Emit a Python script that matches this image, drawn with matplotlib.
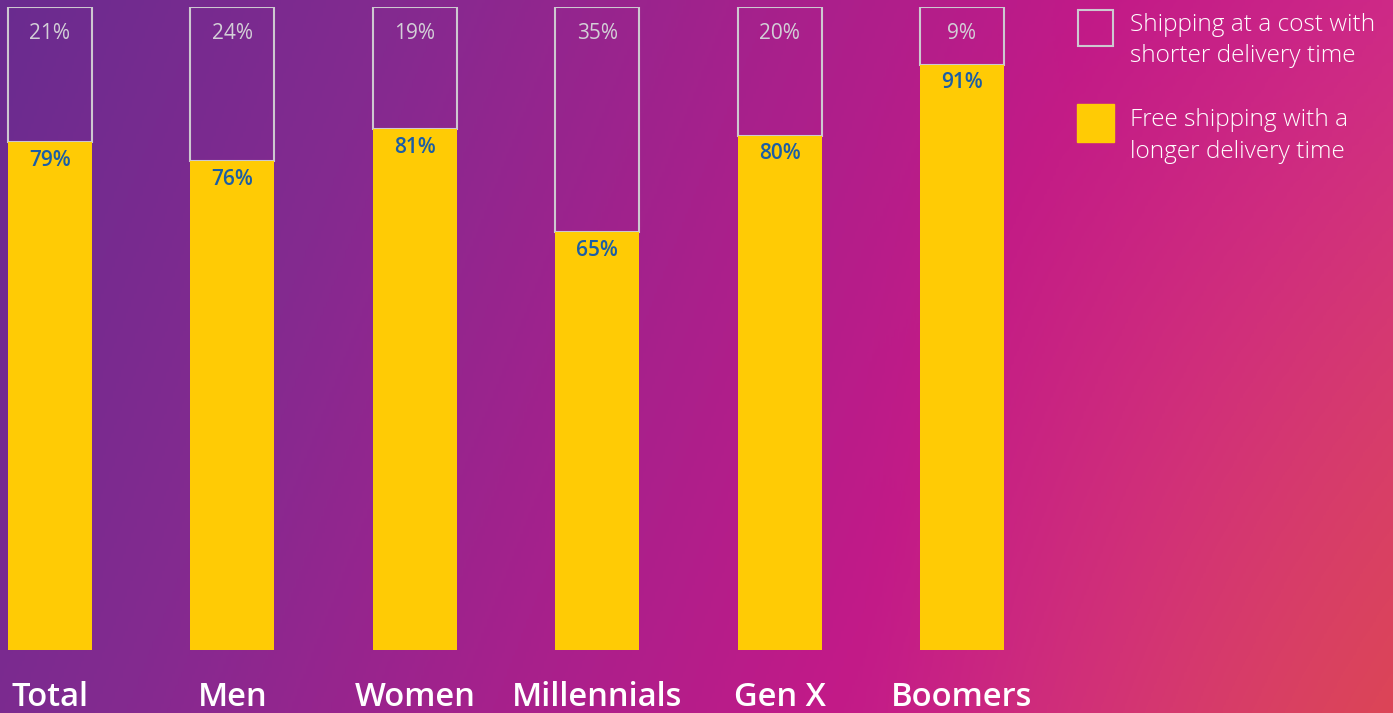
import numpy as np
import matplotlib
matplotlib.use('Agg')
import matplotlib.pyplot as plt
from matplotlib.colors import LinearSegmentedColormap, to_rgb
from matplotlib.patches import Rectangle

categories = ['Total', 'Men', 'Women', 'Millennials', 'Gen X', 'Boomers']
free_shipping = [79, 76, 81, 65, 80, 91]
paid_shipping = [21, 24, 19, 35, 20, 9]
legend_labels = [['Shipping at a cost with', 'shorter delivery time'],
                 ['Free shipping with a', 'longer delivery time']]

YELLOW = '#ffcb05'
OUTLINE = '#cdc8d0'
GRAY_TXT = '#d3cfd7'
BLUE_TXT = '#1b5ea6'
FONT = ['Open Sans', 'DejaVu Sans']

plt.rcParams['font.family'] = FONT

W, H = 1393, 713
fig = plt.figure(figsize=(W / 100, H / 100), dpi=100)

# background gradient: purple left -> magenta -> reddish bottom right
bg = fig.add_axes([0, 0, 1, 1])
bg.axis('off')
gx, gy = np.meshgrid(np.linspace(0, 1, 500), np.linspace(0, 1, 260))
t = (gx + 0.2 * gy) / 1.2
stops = [(0.0, '#6a2c8f'), (0.24, '#842a90'), (0.46, '#a6218c'),
         (0.66, '#c21a88'), (0.82, '#cd2887'), (1.0, '#d63a80')]
cmap = LinearSegmentedColormap.from_list('bg', stops)
img = cmap(t)[..., :3]
red = np.array(to_rgb('#dc4652'))
a = (np.clip((gx - 0.62) / 0.38, 0, 1) ** 1.3 * gy ** 1.2 * 0.9)[..., None]
img = img * (1 - a) + red * a
bg.imshow(img, extent=[0, 1, 0, 1], aspect='auto', origin='upper')
bg.set_xlim(0, 1)
bg.set_ylim(0, 1)

# main bars, axis x=0 at px 50, spacing 182.4 px
step = 182.4
ax = fig.add_axes([0, 63 / H, 1, 643 / H])
ax.patch.set_alpha(0)
ax.axis('off')
ax.set_xlim(-50 / step, (W - 50) / step)
ax.set_ylim(0, 100)
x = np.arange(len(categories))
bw = 84 / step

ax.bar(x, paid_shipping, bottom=free_shipping, width=bw, fill=False,
       edgecolor=OUTLINE, linewidth=1.5, zorder=2)
ax.bar(x, free_shipping, width=bw, color=YELLOW, zorder=3)

for xi, p, f, c in zip(x, paid_shipping, free_shipping, categories):
    ax.annotate(f'{p}%', (xi, 100), xytext=(0, -19), textcoords='offset points',
                ha='center', va='center', fontsize=15, fontweight='medium',
                color=GRAY_TXT, zorder=4)
    ax.annotate(f'{f}%', (xi, f), xytext=(0, -13), textcoords='offset points',
                ha='center', va='center', fontsize=15, fontweight='semibold',
                color=BLUE_TXT, zorder=4)
    ax.annotate(c, (xi, 0), xytext=(0, -40.5), textcoords='offset points',
                ha='center', va='baseline', fontsize=23.5, fontweight='semibold',
                color='white', zorder=4)

# legend
fig.patches.append(Rectangle((1078 / W, 1 - 46 / H), 35 / W, 36 / H, fill=False,
                             edgecolor=OUTLINE, linewidth=1.5, transform=fig.transFigure))
fig.patches.append(Rectangle((1077 / W, 1 - 142 / H), 37 / W, 38 / H, color=YELLOW,
                             transform=fig.transFigure))
for lines, y0 in zip(legend_labels, [31, 126]):
    for k, line in enumerate(lines):
        fig.text(1130 / W, 1 - (y0 + 31.5 * k) / H, line, va='baseline', ha='left',
                 fontsize=17.6, fontweight='light', color='white')

fig.savefig('out.png', dpi=100)
